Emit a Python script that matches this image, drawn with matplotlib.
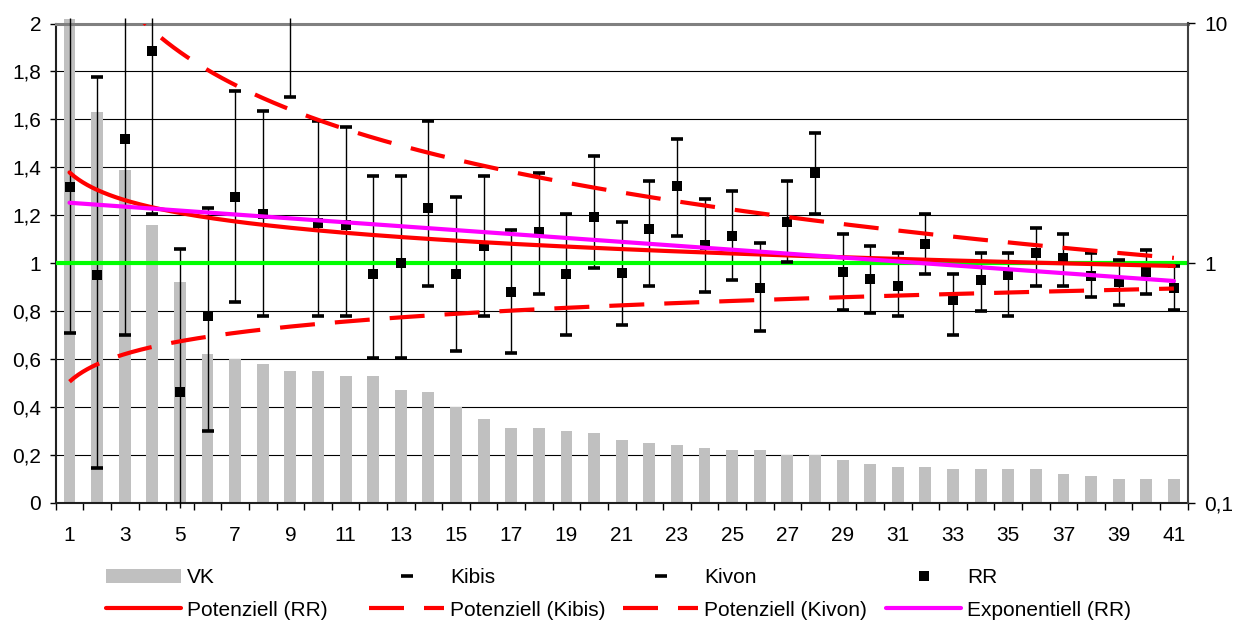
import numpy as np
import matplotlib
matplotlib.use("Agg")
import matplotlib.pyplot as plt
from matplotlib.lines import Line2D
from matplotlib.patches import Patch
from matplotlib.ticker import FixedLocator, NullLocator

plt.rcParams['font.family'] = ['Liberation Sans', 'DejaVu Sans']

# ---- data -----------------------------------------------------------------
categories = list(range(1, 42))

# VK (left axis, linear)
vk = [2.02, 1.63, 1.39, 1.16, 0.92, 0.62, 0.60, 0.58, 0.55, 0.55,
      0.53, 0.53, 0.47, 0.46, 0.40, 0.35, 0.31, 0.31, 0.30, 0.29,
      0.26, 0.25, 0.24, 0.23, 0.22, 0.22, 0.20, 0.20, 0.18, 0.16,
      0.15, 0.15, 0.14, 0.14, 0.14, 0.14, 0.12, 0.11, 0.10, 0.10,
      0.10]

# relative risk and confidence bounds (right axis, logarithmic)
rr = [2.07, 0.89, 3.30, 7.71, 0.29, 0.60, 1.89, 1.61, 14.0, 1.47,
      1.44, 0.90, 1.00, 1.70, 0.90, 1.18, 0.76, 1.35, 0.90, 1.55,
      0.91, 1.39, 2.10, 1.19, 1.30, 0.79, 1.49, 2.38, 0.92, 0.86,
      0.80, 1.20, 0.70, 0.85, 0.89, 1.10, 1.05, 0.88, 0.83, 0.92,
      0.79]
kibis = [11.5, 6.00, 22.0, 38.0, 1.14, 1.70, 5.25, 4.32, 48.0, 3.93,
         3.71, 2.31, 2.31, 3.93, 1.89, 2.31, 1.37, 2.37, 1.60, 2.80,
         1.49, 2.20, 3.30, 1.85, 1.99, 1.21, 2.20, 3.50, 1.32, 1.18,
         1.10, 1.60, 0.90, 1.10, 1.10, 1.40, 1.32, 1.10, 1.03, 1.13,
         0.97]
kivon = [0.51, 0.14, 0.50, 1.60, 0.07, 0.20, 0.69, 0.60, 4.92, 0.60,
         0.60, 0.40, 0.40, 0.80, 0.43, 0.60, 0.42, 0.74, 0.50, 0.95,
         0.55, 0.80, 1.30, 0.76, 0.85, 0.52, 1.01, 1.60, 0.64, 0.62,
         0.60, 0.90, 0.50, 0.63, 0.60, 0.80, 0.80, 0.72, 0.67, 0.74,
         0.64]

# trendline coefficients: power y = a*x^b, exponential y = a*exp(b*x)
pot_rr = (2.39, -0.242)
exp_rr = (1.82, -0.0188)
pot_kibis = (34.5, -0.94)
pot_kivon = (0.32, 0.241)

left_ticks = [0, 0.2, 0.4, 0.6, 0.8, 1.0, 1.2, 1.4, 1.6, 1.8, 2.0]
right_ticks = [0.1, 1, 10]

# ---- figure ---------------------------------------------------------------
W, H = 1237, 622
fig = plt.figure(figsize=(W / 100, H / 100), dpi=100)
x0, x1, y_top, y_bot = 55.7, 1187.7, 23.5, 502.7
ax = fig.add_axes([x0 / W, 1 - y_bot / H, (x1 - x0) / W, (y_bot - y_top) / H])
ax2 = ax.twinx()

FS = 15
GREY_BAR = '#C0C0C0'
RED = '#FF0000'
MAGENTA = '#FF00FF'
GREEN = '#00FF00'


def comma(v):
    s = f"{v:g}"
    return s.replace('.', ',')


# bars on the linear axis
ax.bar(categories, vk, width=0.43, color=GREY_BAR, zorder=2, clip_on=False)
ax.set_xlim(0.5, 41.5)
ax.set_ylim(0, 2)
ax.set_axisbelow(True)
ax.yaxis.grid(True, color='black', lw=0.8)
ax.yaxis.set_major_locator(FixedLocator(left_ticks))
ax.set_yticklabels([comma(t) for t in left_ticks])

odd = categories[::2]
ax.set_xticks(odd)
ax.set_xticklabels([str(c) for c in odd])
ax.xaxis.set_minor_locator(FixedLocator(np.arange(0.5, 42, 1.0)))
ax.tick_params(axis='x', which='major', length=0, pad=17, labelsize=FS)
ax.tick_params(axis='x', which='minor', length=4.8, width=1, direction='out',
               color='black')
ax.tick_params(axis='y', which='major', length=4.5, width=1, direction='out',
               pad=6, labelsize=FS)

# log axis: confidence range lines, bounds, RR and trendlines
ax2.set_yscale('log')
ax2.set_ylim(0.1, 10)
ax2.yaxis.set_major_locator(FixedLocator(right_ticks))
ax2.yaxis.set_minor_locator(NullLocator())
ax2.set_yticklabels([comma(t) for t in right_ticks])
ax2.tick_params(axis='y', which='major', length=5, width=1, direction='out',
                pad=7, labelsize=FS)

lo = np.clip(kivon, 0.1 / 1.05, 10 * 1.05)
hi = np.clip(kibis, 0.1 / 1.05, 10 * 1.05)
ax2.vlines(categories, lo, hi, color='black', lw=1, zorder=2, clip_on=False)
ax2.axhline(1.0, color=GREEN, lw=3, zorder=2.2)
ax2.plot(categories, kibis, ls='none', marker='_', ms=8, mew=2.6,
         color='black', zorder=3)
ax2.plot(categories, kivon, ls='none', marker='_', ms=8, mew=2.6,
         color='black', zorder=3)
ax2.plot(categories, rr, ls='none', marker='s', ms=7.2, mew=0,
         color='black', zorder=3)

xs = np.linspace(categories[0], categories[-1], 500)
ax2.plot(xs, pot_rr[0] * xs ** pot_rr[1], color=RED, lw=3, zorder=4,
         solid_capstyle='round')
ax2.plot(xs, pot_kibis[0] * xs ** pot_kibis[1], color=RED, lw=3, zorder=4,
         dashes=(8.4, 4.8))
ax2.plot(xs, pot_kivon[0] * xs ** pot_kivon[1], color=RED, lw=3, zorder=4,
         dashes=(8.4, 4.8))
ax2.plot(xs, exp_rr[0] * np.exp(exp_rr[1] * xs), color=MAGENTA, lw=3,
         zorder=4, solid_capstyle='round')

# frame
for a in (ax, ax2):
    a.spines['top'].set_visible(False)
for s in ('left', 'bottom'):
    ax.spines[s].set_color('#202020')
    ax.spines[s].set_linewidth(1.5)
    ax2.spines[s].set_visible(False)
ax.spines['right'].set_visible(False)
ax2.spines['right'].set_color('#404040')
ax2.spines['right'].set_linewidth(1.5)
ax.axhline(2.0, color='#808080', lw=2.2, zorder=5, clip_on=False)

# legend: four columns of two entries
dash_handle = dict(color=RED, lw=3, dashes=(8.4, 4.8))
cols = [
    (106, [Patch(facecolor=GREY_BAR, edgecolor='none'),
           Line2D([], [], color=RED, lw=3, solid_capstyle='round')],
     ['VK', 'Potenziell (RR)']),
    (369, [Line2D([], [], ls='none', marker='_', ms=8, mew=2.6, color='black'),
           Line2D([], [], **dash_handle)],
     ['Kibis', 'Potenziell (Kibis)']),
    (623, [Line2D([], [], ls='none', marker='_', ms=8, mew=2.6, color='black'),
           Line2D([], [], **dash_handle)],
     ['Kivon', 'Potenziell (Kivon)']),
    (886, [Line2D([], [], ls='none', marker='s', ms=7.2, mew=0, color='black'),
           Line2D([], [], color=MAGENTA, lw=3, solid_capstyle='round')],
     ['RR', 'Exponentiell (RR)']),
]
for xpx, handles, labels in cols:
    fig.legend(handles=handles, labels=labels, loc='center left',
               bbox_to_anchor=(xpx / W, 1 - 594 / H), frameon=False,
               borderpad=0, borderaxespad=0, handlelength=3.6,
               handletextpad=0.3, labelspacing=0.65, fontsize=FS)

fig.savefig('out.png', dpi=100)
